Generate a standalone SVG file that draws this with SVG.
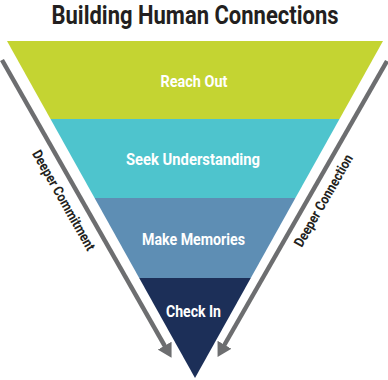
<svg xmlns="http://www.w3.org/2000/svg" width="388" height="380" viewBox="0 0 388 380">
  <style>
    .title { font-family: Roboto, "Liberation Sans", sans-serif; font-weight: 700; font-size: 25px; fill: #231f20; }
    .band-label { font-family: Roboto, "Liberation Sans", sans-serif; font-weight: 700; font-size: 16px; fill: #ffffff; text-anchor: middle; }
    .side-label { font-family: Roboto, "Liberation Sans", sans-serif; font-weight: 700; font-size: 14px; fill: #231f20; text-anchor: middle; }
    .arrow { stroke: #6d6e70; stroke-width: 4.5; fill: none; marker-end: url(#head); }
  </style>
  <defs>
    <marker id="head" markerUnits="userSpaceOnUse" markerWidth="15" markerHeight="16" viewBox="0 0 15 16" refX="2" refY="8" orient="auto">
      <path d="M0,0 L14,8 L0,16 Z" fill="#6d6e70"/>
    </marker>
  </defs>
  <rect width="388" height="380" fill="#ffffff"/>
  <text class="title" x="195" y="23.5" text-anchor="middle" textLength="287" lengthAdjust="spacingAndGlyphs">Building Human Connections</text>

  <g id="reach-out">
    <polygon points="7,41 383,41 339.5,119 50.5,119" fill="#c4d432"/>
    <text class="band-label" x="194" y="87" textLength="67" lengthAdjust="spacingAndGlyphs">Reach Out</text>
  </g>
  <g id="seek-understanding">
    <polygon points="50.5,119 339.5,119 295.4,198 94.6,198" fill="#4ec4cd"/>
    <text class="band-label" x="193" y="165" textLength="134" lengthAdjust="spacingAndGlyphs">Seek Understanding</text>
  </g>
  <g id="make-memories">
    <polygon points="94.6,198 295.4,198 250.8,278 139.2,278" fill="#5e8eb4"/>
    <text class="band-label" x="193.5" y="245" textLength="103" lengthAdjust="spacingAndGlyphs">Make Memories</text>
  </g>
  <g id="check-in">
    <polygon points="139.2,278 250.8,278 195,378" fill="#1c2f58"/>
    <text class="band-label" x="193.5" y="316.7" textLength="55" lengthAdjust="spacingAndGlyphs">Check In</text>
  </g>

  <g id="connectors">
    <line class="arrow" x1="2" y1="60" x2="165.6" y2="347.4"/>
    <line class="arrow" x1="387" y1="61" x2="223.5" y2="346.5"/>
  </g>

  <g id="deeper-commitment">
    <text class="side-label" x="0" y="0" transform="translate(59.6,202.6) rotate(60.4)" textLength="113" lengthAdjust="spacingAndGlyphs">Deeper Commitment</text>
  </g>
  <g id="deeper-connection">
    <text class="side-label" x="0" y="0" transform="translate(327.6,203) rotate(-60.2)" textLength="104" lengthAdjust="spacingAndGlyphs">Deeper Connection</text>
  </g>
</svg>
